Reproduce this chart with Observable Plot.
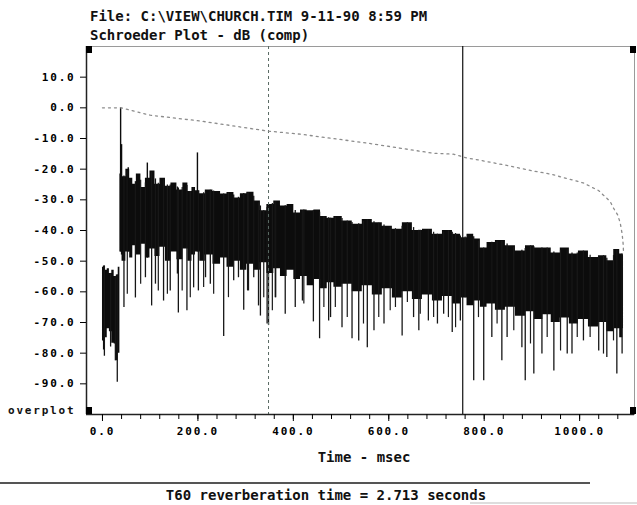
<!DOCTYPE html>
<html>
<head>
<meta charset="utf-8">
<script src="https://cdn.jsdelivr.net/npm/d3@7"></script>
<script src="https://cdn.jsdelivr.net/npm/@observablehq/plot@0.6"></script>
<style>
  html, body { margin: 0; padding: 0; background: #fff; }
  #chart svg text { font-family: "DejaVu Sans Mono", monospace; font-weight: bold; }
  .small text, text.small { font-size: 11px; letter-spacing: 1.8px; }
</style>
</head>
<body>
<div id="chart"></div>
<script>
// ---- data ----
const titleLine1 = "File: C:\\VIEW\\CHURCH.TIM 9-11-90 8:59 PM";
const titleLine2 = "Schroeder Plot - dB (comp)";
const xLabel = "Time - msec";
const footer = "T60 reverberation time = 2.713 seconds";
const overplotLabel = "overplot";

const xDomain = [-33.5, 1115];
const yDomain = [-100, 20];
const xMajorTicks = [0, 200, 400, 600, 800, 1000];
const xMinorTicks = [0, 40, 80, 120, 160, 200, 240, 280, 320, 360, 400, 440, 480, 520, 560, 600, 640, 680, 720, 760, 800, 840, 880, 920, 960, 1000, 1040, 1080];
const yTicks = [10, 0, -10, -20, -30, -40, -50, -60, -70, -80, -90];

// envelope of the dense impulse-response trace (ms, dB)
const bandTime = [0, 4, 8, 12, 17, 22, 27, 31, 35,
  38, 44, 54, 60, 67, 75, 86, 94, 105, 115, 126, 138, 149, 163, 174, 184, 191, 199, 209, 222, 241, 254, 268, 283, 295, 310, 325, 337, 352, 366, 380, 394, 408, 422, 436, 450, 464, 478, 492, 513, 534, 555, 576, 597, 618, 639, 660, 681, 702, 723, 744, 757, 771, 785, 799, 813, 834, 855, 876, 897, 914, 932, 949, 970, 987, 1008, 1029, 1050, 1064, 1079, 1089, 1092];
const bandTop = [-52, -51.6, -53, -52.5, -54, -53, -55, -54.5, -52,
  -21.6, -22.5, -20, -23, -24.9, -21.6, -26, -23, -20.6, -24.9, -23, -25.6, -24.5, -26.8, -24.5, -27.3, -26, -27, -28, -26.8, -27.3, -28.1, -27.6, -29.4, -28, -27.5, -30.4, -33.6, -31.5, -30.4, -32, -31.5, -34.3, -33.3, -33.6, -33.3, -35.4, -36, -35.4, -36.9, -38, -36.4, -37.5, -38.6, -39.6, -37.5, -40, -39.6, -41.2, -40, -41.2, -42.4, -41.2, -42.8, -45.7, -43.9, -43.3, -45, -46.7, -45, -45.7, -45.7, -47.3, -45.7, -47.7, -46.7, -48.8, -48.2, -49.9, -46.2, -47.7, -48];
const bandBottom = [-76, -79, -75, -72, -73, -76.8, -77, -82.5, -80,
  -47, -50, -47, -49, -45, -48, -44.5, -49, -46, -48.5, -45.5, -50, -47, -49.5, -46, -50, -48, -47, -50, -48, -51, -49, -52, -50, -53, -51, -53, -50.5, -54, -52.5, -55, -53, -56, -55, -58, -56, -59, -57, -58.5, -57.5, -60, -58, -61, -59, -62, -60, -62.5, -61, -63, -61.5, -64, -62, -64.5, -63, -65, -64, -66, -65, -68, -66.5, -69, -67.5, -70, -68.5, -70.5, -69, -71.5, -70, -73, -72, -75, -72];

// isolated upward peaks
const upSpikeTime = [38, 40, 54, 94, 199];
const upSpikeDb = [0, -12, -19.5, -18, -14.7];

// deep downward spikes
const downSpikeTime = [4, 17, 27, 31, 45, 69, 90, 103, 111, 128, 142, 157, 159, 177, 191, 201, 216, 226, 254, 275, 285, 296, 306, 317, 327, 331, 345, 348, 363, 383, 404, 419, 442, 455, 474, 478, 502, 523, 537, 555, 569, 590, 628, 652, 663, 683, 702, 715, 733, 750, 778, 799, 816, 837, 848, 879, 886, 904, 921, 946, 974, 984, 1008, 1040, 1057, 1078, 1089];
const downSpikeDb = [-81, -78, -82.5, -89.5, -65.1, -62, -55.4, -64.6, -57.5, -63, -59.7, -54.2, -66.9, -66.2, -58.7, -59.7, -55.4, -57.5, -74.6, -56.4, -55.4, -66, -59.7, -55.4, -64.6, -67.9, -70.5, -71, -61.9, -67.3, -65.1, -63, -69.8, -75.3, -69.5, -68.4, -71.7, -75.3, -76, -78.2, -72.7, -70.5, -74.4, -68.4, -72.7, -69.5, -70.5, -67.3, -73.3, -69.5, -89, -89, -74.9, -82.5, -74.9, -78.2, -89, -86.8, -80.3, -85.8, -80.3, -80.3, -76, -79.3, -81.4, -86.8, -80.3];

// shorter downward spikes
const midSpikeTime = [52, 80, 117, 136, 167, 184, 212, 233, 264, 304, 338, 356, 362, 422, 464, 488, 513, 547, 579, 603, 614, 639, 666, 694, 725, 740, 760, 788, 827, 862, 897, 932, 960, 995, 1022, 1050, 1071];
const midSpikeDb = [-60.8, -57.5, -59.7, -60.8, -59.7, -61.9, -58.6, -60.8, -61.9, -59.7, -61.9, -66.2, -61.9, -64, -65.1, -65.1, -68.4, -70.5, -68.4, -66.2, -65.1, -63.5, -67.3, -68.4, -68.4, -71.7, -61.9, -68.4, -70.5, -72.7, -77, -74.9, -79.3, -74.9, -74.9, -80.3, -76];

// Schroeder backward-integrated decay curve
const schTime = [0, 40, 100, 205, 348, 415, 555, 693, 735, 765, 778, 855, 903, 939, 1008, 1040, 1050, 1064, 1071, 1080, 1085, 1089, 1091, 1092];
const schDb = [0, 0, -2.4, -4.3, -7.6, -8.6, -11.5, -14.8, -15.1, -16.4, -16.7, -19.0, -20.6, -21.6, -24.5, -27, -28.5, -30.5, -32.7, -35, -37.5, -41, -44, -47];

// cursor markers (ms)
const cursorDashed = [348];
const cursorSolid = [755];

// ---- build tables ----
const band = bandTime.map((t, i) => ({t, top: bandTop[i], bottom: bandBottom[i]}));
function interp(t, ts, vs) {
  const i = Math.max(1, Math.min(ts.length - 1, d3.bisectLeft(ts, t)));
  const a = ts[i - 1], b = ts[i];
  const f = b === a ? 0 : (t - a) / (b - a);
  return vs[i - 1] + (vs[i] - vs[i - 1]) * Math.max(0, Math.min(1, f));
}
const downSpikes = downSpikeTime.map((t, i) => ({t, lo: downSpikeDb[i], hi: interp(t, bandTime, bandTop)}));
const midSpikes = midSpikeTime.map((t, i) => ({t, lo: midSpikeDb[i], hi: interp(t, bandTime, bandTop)}));
const upSpikes = upSpikeTime.map((t, i) => ({t, hi: upSpikeDb[i], lo: interp(t, bandTime, bandBottom)}));
const sch = schTime.map((t, i) => ({t, db: schDb[i]}));

const fmt = d => d.toFixed(1);

const chart = Plot.plot({
  width: 637,
  height: 505,
  marginLeft: 86,
  marginRight: 3,
  marginTop: 46,
  marginBottom: 91,
  style: {background: "#fff", overflow: "visible"},
  x: {domain: xDomain},
  y: {domain: yDomain},
  marks: [
    Plot.frame({stroke: "#9a9a9a", strokeWidth: 1}),
    Plot.areaY(band, {x: "t", y1: "bottom", y2: "top", fill: "#0c0c0c", curve: "step"}),
    Plot.ruleX(midSpikes, {x: "t", y1: "lo", y2: "hi", stroke: "#1a1a1a", strokeWidth: 1.2}),
    Plot.ruleX(downSpikes, {x: "t", y1: "lo", y2: "hi", stroke: "#161616", strokeWidth: 1.3}),
    Plot.ruleX(upSpikes, {x: "t", y1: "lo", y2: "hi", stroke: "#0c0c0c", strokeWidth: 1.4}),
    Plot.ruleX(cursorDashed, {stroke: "#5a6a64", strokeWidth: 1, strokeDasharray: "3,3"}),
    Plot.ruleX(cursorSolid, {stroke: "#111", strokeWidth: 1.2}),
    Plot.line(sch, {x: "t", y: "db", stroke: "#8c8c8c", strokeWidth: 1.3, strokeDasharray: "2,4"}),
    Plot.ruleX([xDomain[0]], {stroke: "#222", strokeWidth: 1.5}),
    Plot.ruleY([yDomain[0]], {stroke: "#222", strokeWidth: 1.5}),
    Plot.axisY({ticks: yTicks, tickFormat: fmt, tickSize: 6, tickPadding: 5, label: null, className: "small", fontSize: 11}),
    Plot.axisX({ticks: xMajorTicks, tickFormat: fmt, tickSize: 7, tickPadding: 6, label: null, className: "small", fontSize: 11}),
    Plot.axisX({ticks: xMinorTicks, tickSize: 5, text: null, label: null})
  ]
});
document.getElementById("chart").appendChild(chart);

// ---- decorations and text ----
const svg = d3.select(chart);
const W = 637, L = 86, R = 634, T = 46, B = 414;
[[L, T], [L, B - 7], [R - 4, T], [R - 4, B - 7]].forEach(([x, y]) => {
  svg.append("rect").attr("x", x).attr("y", y).attr("width", 6).attr("height", 7).attr("fill", "#000");
});
svg.append("text").attr("x", 90).attr("y", 21).attr("text-anchor", "start").attr("font-size", 14).attr("fill", "#111").text(titleLine1);
svg.append("text").attr("x", 90).attr("y", 40).attr("text-anchor", "start").attr("font-size", 14).attr("fill", "#111").text(titleLine2);
svg.append("text").attr("class", "small").attr("x", 8).attr("y", 414).attr("text-anchor", "start").attr("fill", "#111").text(overplotLabel);
svg.append("text").attr("x", 364).attr("y", 462).attr("text-anchor", "middle").attr("font-size", 14).attr("fill", "#111").text(xLabel);
svg.append("line").attr("x1", 0).attr("x2", 590).attr("y1", 483).attr("y2", 483).attr("stroke", "#555").attr("stroke-width", 2);
svg.append("line").attr("x1", 470).attr("x2", W).attr("y1", 503).attr("y2", 503).attr("stroke", "#bbb").attr("stroke-width", 1);
svg.append("text").attr("x", 326).attr("y", 500).attr("text-anchor", "middle").attr("font-size", 14).attr("fill", "#111").text(footer);
</script>
</body>
</html>
